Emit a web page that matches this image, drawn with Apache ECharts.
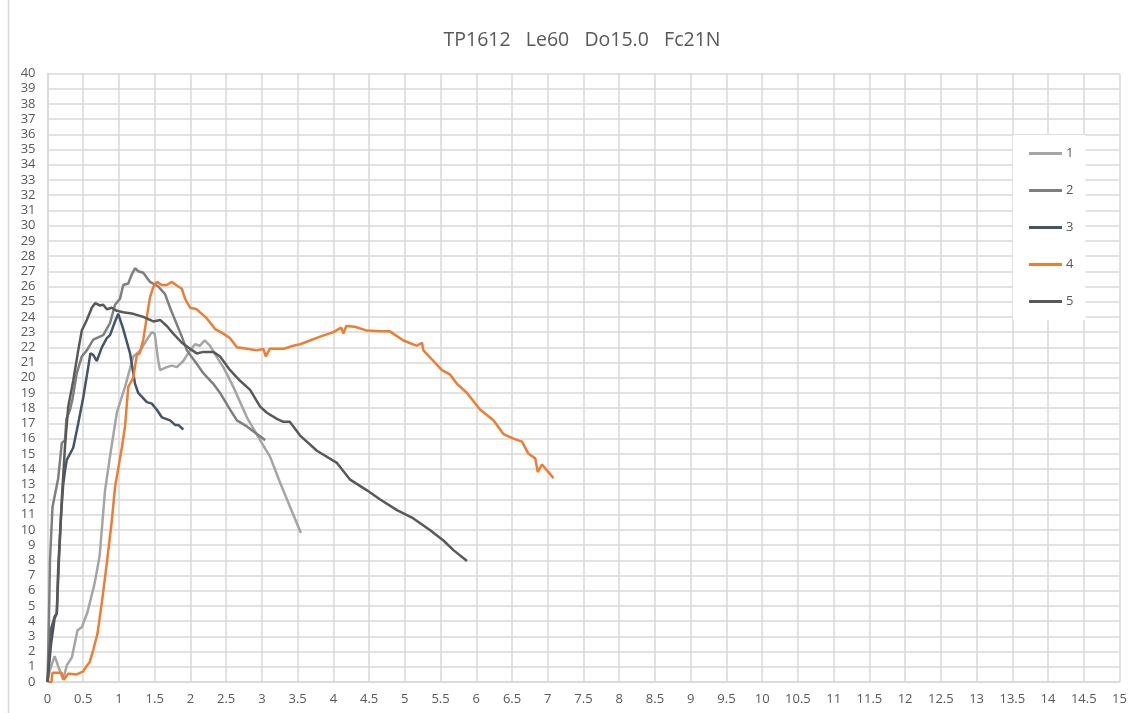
<!DOCTYPE html>
<html>
<head>
<meta charset="utf-8">
<script src="https://cdn.jsdelivr.net/npm/echarts@6/dist/echarts.min.js"></script>
<style>html,body{margin:0;padding:0;background:#fff}#c{width:1134px;height:713px}</style>
</head>
<body>
<div id="c"></div>
<script>
const titleText = 'TP1612   Le60   Do15.0   Fc21N';
const seriesNames = ['1', '2', '3', '4', '5'];
const seriesColors = ['#A5A5A5', '#7F7F7F', '#44546A', '#ED7D31', '#595959'];

const s1 = [[0,0],[0.035,0.8],[0.1,1.7],[0.16,0.9],[0.22,0.15],[0.27,1.1],[0.34,1.6],[0.42,3.4],[0.48,3.6],[0.56,4.6],[0.66,6.5],[0.73,8.3],[0.805,12.6],[0.88,15.0],[0.97,17.7],[1.085,19.4],[1.2,21.4],[1.3,21.8],[1.39,22.5],[1.46,23.0],[1.5,22.9],[1.55,21.1],[1.575,20.5],[1.67,20.7],[1.74,20.8],[1.81,20.7],[1.9,21.1],[1.995,21.8],[2.065,22.2],[2.13,22.1],[2.2,22.45],[2.275,22.1],[2.35,21.5],[2.46,20.7],[2.6,19.4],[2.79,17.4],[2.975,15.9],[3.115,14.8],[3.255,13.1],[3.395,11.5],[3.545,9.8]];
const s2 = [[0,0],[0.02,4],[0.035,8],[0.07,11.5],[0.15,13.4],[0.2,15.7],[0.245,15.9],[0.265,17.3],[0.315,17.9],[0.35,18.6],[0.41,20.3],[0.48,21.4],[0.55,21.8],[0.64,22.5],[0.78,22.8],[0.875,23.6],[0.945,24.8],[1.015,25.2],[1.06,26.1],[1.13,26.2],[1.18,26.8],[1.225,27.2],[1.27,27.0],[1.34,26.9],[1.435,26.3],[1.55,26.0],[1.645,25.5],[1.715,24.6],[1.81,23.5],[1.88,22.7],[1.95,21.8],[2.09,20.9],[2.18,20.3],[2.32,19.6],[2.415,19.0],[2.555,17.9],[2.65,17.2],[2.79,16.8],[2.93,16.3],[3.045,15.9]];
const s3 = [[0,0],[0.05,2.5],[0.1,4.2],[0.13,4.5],[0.15,7.5],[0.19,11],[0.22,13],[0.245,13.9],[0.27,14.6],[0.36,15.4],[0.43,17.0],[0.5,18.7],[0.57,20.7],[0.6,21.6],[0.64,21.5],[0.69,21.1],[0.76,22.0],[0.83,22.6],[0.875,22.8],[0.945,23.7],[0.99,24.2],[1.06,23.2],[1.155,21.6],[1.225,19.6],[1.27,19.0],[1.39,18.4],[1.46,18.3],[1.53,17.9],[1.6,17.4],[1.715,17.2],[1.785,16.9],[1.83,16.9],[1.9,16.6]];
const s4 = [[0,0],[0.055,0],[0.07,0.6],[0.2,0.6],[0.23,0.15],[0.29,0.55],[0.41,0.5],[0.5,0.7],[0.54,1.0],[0.59,1.3],[0.64,2.1],[0.7,3.2],[0.76,5.2],[0.83,7.8],[0.9,10.6],[0.945,12.8],[1.04,15.4],[1.085,16.8],[1.13,19.4],[1.2,20.0],[1.25,21.5],[1.29,21.6],[1.34,22.5],[1.39,24.0],[1.435,25.3],[1.48,25.95],[1.53,26.3],[1.6,26.1],[1.67,26.1],[1.74,26.3],[1.8,26.1],[1.88,25.85],[1.925,25.2],[1.995,24.6],[2.09,24.5],[2.135,24.3],[2.23,23.9],[2.345,23.2],[2.46,22.9],[2.555,22.6],[2.65,22.0],[2.79,21.9],[2.93,21.8],[3.02,21.9],[3.055,21.4],[3.11,21.9],[3.3,21.9],[3.44,22.1],[3.535,22.2],[3.815,22.7],[4.0,23.0],[4.11,23.3],[4.14,22.9],[4.18,23.4],[4.3,23.35],[4.47,23.1],[4.655,23.05],[4.79,23.05],[4.98,22.45],[5.17,22.1],[5.24,22.3],[5.26,21.8],[5.4,21.1],[5.52,20.5],[5.635,20.2],[5.73,19.6],[5.87,19.0],[6.055,17.9],[6.24,17.2],[6.38,16.3],[6.52,16.0],[6.64,15.8],[6.73,15.0],[6.825,14.7],[6.86,13.8],[6.92,14.3],[7.08,13.4]];
const s5 = [[0,0],[0.05,3.5],[0.1,4.3],[0.13,4.5],[0.16,8],[0.2,12],[0.245,15.5],[0.29,18.1],[0.36,19.8],[0.43,21.8],[0.48,23.1],[0.55,23.8],[0.62,24.6],[0.665,24.9],[0.735,24.75],[0.78,24.8],[0.83,24.5],[0.9,24.6],[0.97,24.4],[1.06,24.3],[1.2,24.2],[1.34,24.0],[1.48,23.7],[1.575,23.8],[1.67,23.4],[1.76,22.9],[1.88,22.3],[1.995,21.9],[2.09,21.6],[2.18,21.7],[2.32,21.7],[2.415,21.4],[2.555,20.5],[2.695,19.8],[2.835,19.2],[2.975,18.1],[3.07,17.7],[3.21,17.3],[3.3,17.1],[3.39,17.1],[3.535,16.2],[3.77,15.2],[4.05,14.4],[4.235,13.3],[4.47,12.6],[4.655,12.0],[4.89,11.3],[5.12,10.75],[5.355,9.98],[5.54,9.3],[5.68,8.67],[5.87,7.96]];
const allData = [s1, s2, s3, s4, s5];

const chart = echarts.init(document.getElementById('c'), null, {renderer: 'canvas'});
const font = 'Open Sans';
const gridColor = '#D9D9D9';
chart.setOption({
  animation: false,
  backgroundColor: '#fff',
  title: {
    text: titleText,
    left: 577, top: 25, textAlign: 'center',
    textStyle: {fontFamily: font, fontSize: 19.5, fontWeight: 'normal', color: '#595959'}
  },
  grid: {left: 47.5, right: 14.5, top: 73.5, bottom: 31, containLabel: false},
  xAxis: {
    type: 'value', min: 0, max: 15, interval: 0.5,
    axisLine: {show: true, lineStyle: {color: gridColor, width: 1.5}},
    axisTick: {show: false},
    splitLine: {show: true, lineStyle: {color: gridColor, width: 1.5}},
    axisLabel: {fontFamily: font, fontSize: 13, color: '#595959', margin: 11}
  },
  yAxis: {
    type: 'value', min: 0, max: 40, interval: 1,
    axisLine: {show: true, lineStyle: {color: gridColor, width: 1.5}},
    axisTick: {show: false},
    splitLine: {show: true, lineStyle: {color: gridColor, width: 1.5}},
    axisLabel: {fontFamily: font, fontSize: 13, color: '#595959', margin: 12}
  },
  legend: {
    orient: 'vertical', left: 1013, top: 135,
    backgroundColor: '#fff',
    padding: [12, 12, 12, 16],
    icon: 'rect',
    itemWidth: 33, itemHeight: 3, itemGap: 24,
    textStyle: {fontFamily: font, fontSize: 13, color: '#595959', padding: [0, 0, 0, -1]},
    data: seriesNames
  },
  graphic: [{
    type: 'line', shape: {x1: 8.5, y1: 0, x2: 8.5, y2: 713},
    style: {stroke: gridColor, lineWidth: 1.5}, silent: true
  }],
  series: seriesNames.map((n, i) => ({
    name: n, type: 'line', data: allData[i], symbol: 'none',
    lineStyle: {color: seriesColors[i], width: 2.5}, itemStyle: {color: seriesColors[i]},
    z: 2 + i
  }))
});
</script>
</body>
</html>
